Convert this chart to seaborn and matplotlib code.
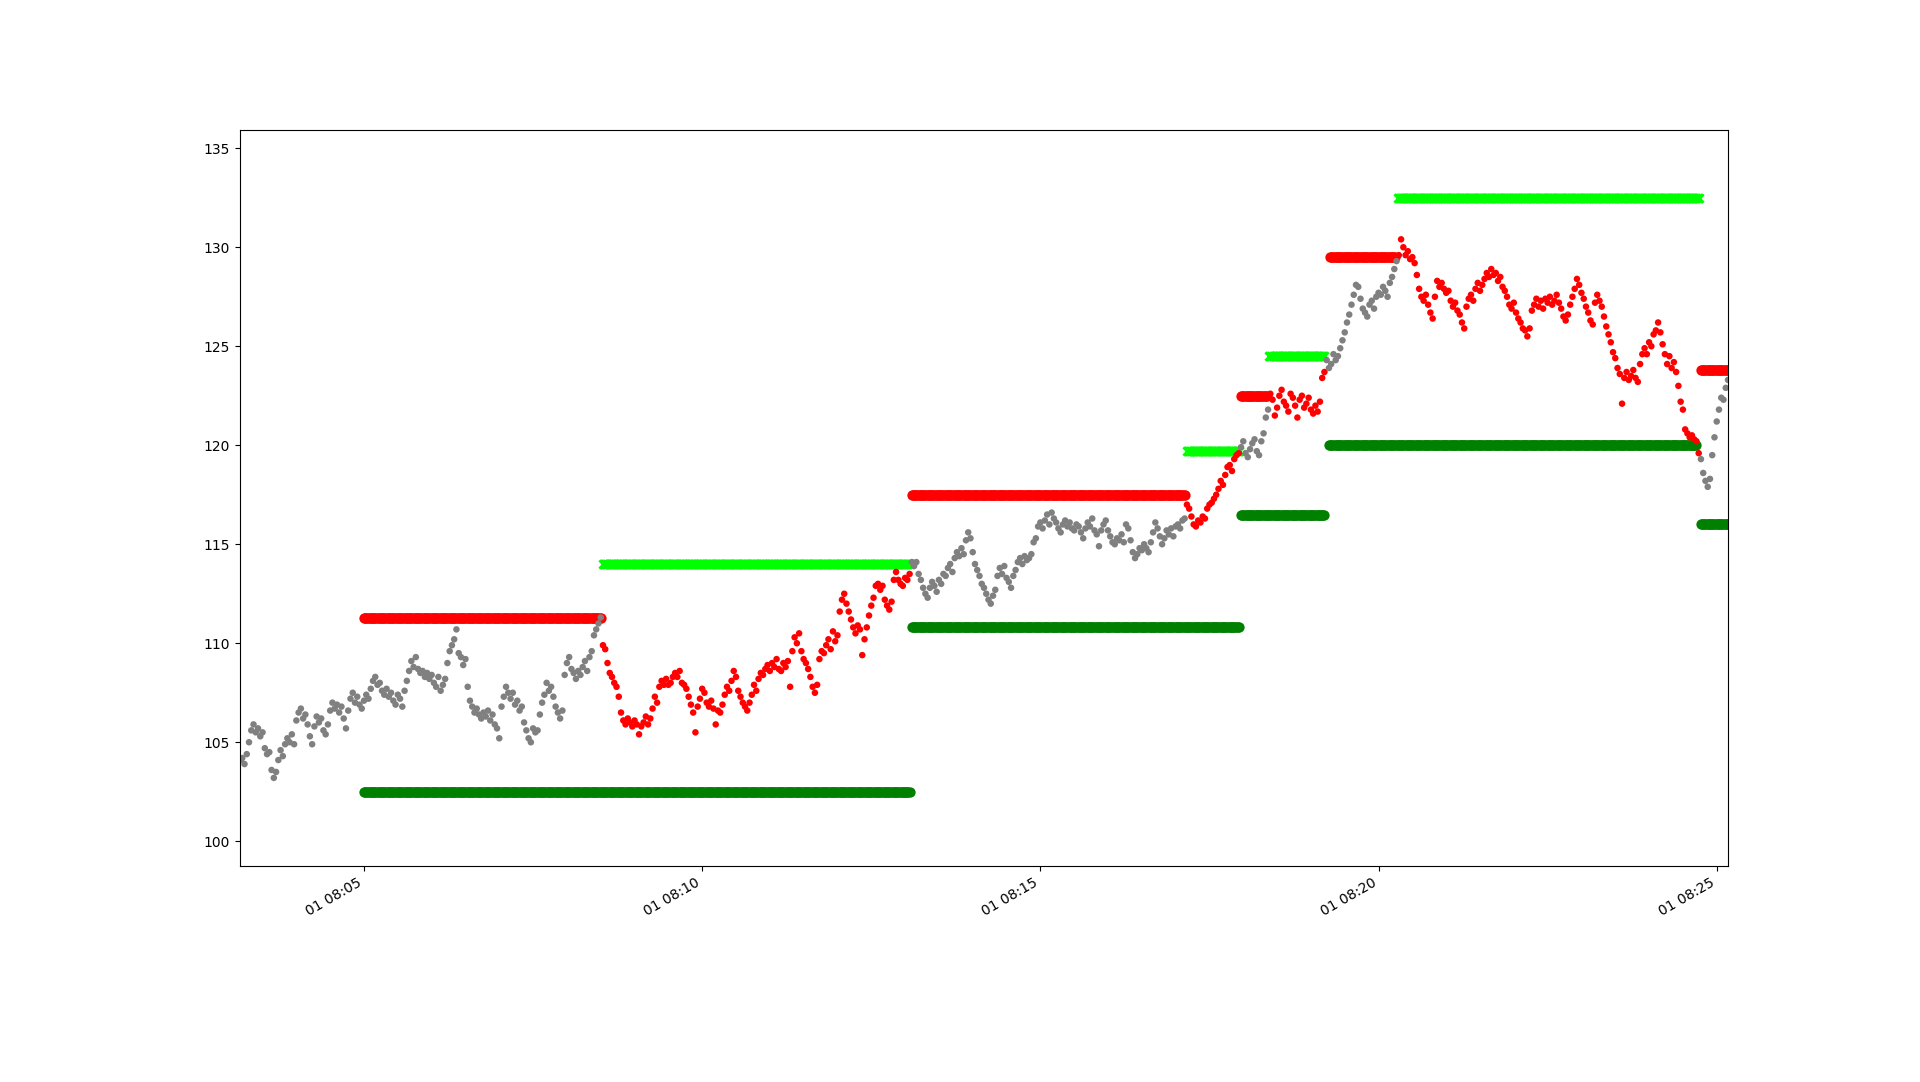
import pandas as pd
import seaborn as sns
import matplotlib.pyplot as plt
import matplotlib.dates as mdates

# price sampled every 2 seconds, one row per minute, starting 08:03:10
day = '2021-01-01 '
start_time = '08:03:10'
price = [
    104.1, 104.2, 103.9, 104.4, 105.0, 105.6, 105.9, 105.5, 105.7, 105.3, 105.5, 104.7, 104.4, 104.5, 103.6,
    103.2, 103.5, 104.1, 104.6, 104.3, 104.9, 105.2, 105.0, 105.4, 104.9, 106.1, 106.5, 106.7, 106.2, 106.4,
    105.9, 105.3, 104.9, 105.8, 106.3, 106.0, 106.2, 105.6, 105.4, 105.9, 106.6, 107.0, 106.7, 106.9, 106.5,
    106.8, 106.2, 105.7, 106.6, 107.2, 107.5, 107.0, 107.3, 106.9, 106.7, 107.1, 107.4, 107.2, 107.7, 108.1,
    108.3, 107.9, 108.0, 107.6, 107.4, 107.7, 107.3, 107.5, 107.1, 106.9, 107.4, 107.2, 106.8, 107.6, 108.1,
    108.6, 109.1, 108.8, 109.3, 108.7, 108.5, 108.6, 108.3, 108.5, 108.2, 108.4, 108.0, 107.8, 108.3, 107.6,
    107.9, 108.2, 109.0, 109.6, 109.9, 110.2, 110.7, 109.5, 109.3, 108.9, 109.2, 107.8, 107.1, 106.8, 106.5,
    106.7, 106.4, 106.2, 106.5, 106.3, 106.6, 106.1, 106.4, 105.9, 105.7, 105.2, 106.8, 107.3, 107.8, 107.5,
    107.2, 107.5, 106.9, 107.1, 106.6, 106.8, 106.0, 105.6, 105.2, 105.0, 105.7, 105.5, 105.6, 106.4, 107.0,
    107.4, 108.0, 107.6, 107.8, 107.3, 106.8, 106.5, 106.2, 106.6, 108.4, 109.0, 109.3, 108.7, 108.5, 108.2,
    108.6, 108.4, 108.8, 109.1, 108.6, 109.3, 109.6, 110.4, 110.7, 111.0, 111.3, 109.9, 109.7, 109.0, 108.5,
    108.3, 108.0, 107.8, 107.3, 106.5, 106.1, 105.9, 106.2, 106.0, 105.8, 106.1, 105.9, 105.4, 105.8, 106.0,
    106.3, 105.9, 106.2, 106.7, 107.3, 107.0, 107.8, 108.1, 107.9, 108.2, 107.9, 108.0, 108.3, 108.5, 108.3,
    108.6, 108.0, 107.9, 107.7, 107.3, 106.9, 106.5, 105.5, 106.8, 107.2, 107.7, 107.5, 107.0, 106.8, 107.1,
    106.7, 105.9, 106.6, 106.5, 106.9, 107.4, 107.8, 107.6, 108.1, 108.6, 108.3, 107.6, 107.3, 107.0, 106.8,
    106.6, 107.0, 107.4, 107.9, 107.6, 108.2, 108.5, 108.4, 108.7, 108.9, 108.6, 109.0, 108.8, 109.2, 108.7,
    108.6, 109.0, 108.8, 109.1, 107.8, 109.6, 110.3, 110.0, 110.5, 109.6, 109.2, 109.0, 108.7, 108.3, 107.8,
    107.5, 107.9, 109.2, 109.6, 109.5, 109.9, 110.2, 109.7, 110.6, 110.1, 110.4, 111.6, 112.2, 112.5, 112.0,
    111.6, 111.2, 110.8, 110.5, 110.9, 110.7, 109.4, 110.2, 110.8, 111.4, 111.9, 112.3, 112.9, 113.0, 112.7,
    112.9, 112.2, 111.9, 111.7, 112.1, 113.2, 113.6, 113.2, 113.0, 112.9, 113.3, 113.2, 113.5, 114.1, 113.9,
    114.1, 113.5, 113.2, 112.8, 112.5, 112.3, 112.8, 113.1, 112.9, 112.6, 113.2, 113.0, 113.5, 113.4, 113.8,
    114.0, 113.6, 114.3, 114.6, 114.4, 114.8, 114.5, 115.2, 115.6, 115.3, 114.6, 114.0, 113.7, 113.4, 113.0,
    112.8, 112.5, 112.2, 112.0, 112.4, 112.7, 113.4, 113.8, 113.5, 113.9, 113.3, 113.1, 112.8, 113.4, 113.7,
    114.1, 114.3, 114.0, 114.4, 114.2, 114.3, 114.5, 115.1, 115.3, 115.9, 116.1, 115.8, 116.2, 116.5, 116.0,
    116.6, 116.3, 116.1, 115.8, 115.6, 116.0, 116.2, 115.9, 116.1, 115.8, 115.7, 116.0, 115.9, 115.6, 115.3,
    115.8, 116.1, 115.9, 116.3, 115.7, 115.5, 114.9, 115.7, 116.0, 116.2, 115.7, 115.4, 115.1, 115.0, 115.3,
    115.2, 115.5, 115.1, 116.0, 115.8, 115.2, 114.6, 114.3, 114.5, 114.8, 114.7, 115.0, 114.8, 114.6, 115.1,
    115.6, 116.1, 115.8, 115.4, 115.0, 115.3, 115.7, 115.5, 115.8, 115.4, 115.9, 116.0, 115.8, 116.2, 116.3,
    117.0, 116.8, 116.4, 116.0, 115.9, 116.2, 116.1, 116.4, 116.3, 116.8, 117.0, 117.1, 117.3, 117.5, 117.8,
    118.2, 118.0, 118.5, 118.9, 119.0, 118.7, 119.3, 119.5, 119.6, 119.9, 120.2, 119.6, 119.4, 119.8, 120.1,
    120.3, 119.7, 119.5, 120.2, 120.6, 121.4, 121.8, 122.6, 122.3, 121.5, 121.9, 122.5, 122.8, 122.2, 122.0,
    121.7, 122.6, 122.4, 122.0, 121.4, 122.3, 122.5, 121.9, 122.1, 122.4, 121.8, 121.6, 122.0, 121.7, 122.2,
    123.4, 123.7, 124.3, 123.9, 124.1, 124.6, 124.3, 124.5, 124.9, 125.3, 125.7, 126.2, 126.6, 127.1, 127.6,
    128.1, 128.0, 127.4, 126.9, 126.7, 126.5, 127.1, 127.3, 126.9, 127.5, 127.7, 127.6, 128.0, 127.8, 127.5,
    128.2, 128.5, 128.9, 129.3, 129.6, 130.4, 130.0, 129.6, 129.8, 129.4, 129.5, 129.2, 128.6, 127.9, 127.5,
    127.3, 127.6, 127.1, 126.7, 126.4, 127.5, 128.3, 128.0, 128.2, 127.9, 127.7, 127.8, 127.3, 127.0, 127.2,
    126.8, 126.6, 126.2, 125.9, 127.0, 127.4, 127.6, 127.3, 127.9, 128.2, 127.8, 128.1, 128.4, 128.7, 128.5,
    128.9, 128.6, 128.7, 128.3, 128.5, 128.0, 127.8, 127.5, 127.1, 126.9, 127.2, 126.7, 126.4, 126.2, 125.9,
    125.8, 125.5, 125.9, 126.8, 127.1, 127.4, 127.0, 127.3, 126.9, 127.4, 127.2, 127.5, 127.1, 127.3, 127.6,
    127.2, 126.9, 126.5, 126.3, 126.6, 127.1, 127.5, 127.9, 128.4, 128.1, 127.7, 127.4, 127.0, 126.7, 126.3,
    126.1, 127.2, 127.6, 127.3, 127.0, 126.5, 126.0, 125.6, 125.2, 124.7, 124.4, 123.9, 123.6, 122.1, 123.4,
    123.7, 123.3, 123.5, 123.8, 123.4, 123.2, 124.1, 124.6, 124.9, 124.6, 125.2, 125.0, 125.6, 125.8, 126.2,
    125.7, 125.1, 124.6, 124.1, 124.5, 123.9, 124.2, 123.7, 123.0, 122.2, 121.8, 120.8, 120.6, 120.4, 120.5,
    120.3, 120.2, 119.6, 119.3, 118.6, 118.2, 117.9, 118.3, 119.5, 120.4, 121.2, 121.8, 122.4, 122.3, 122.9,
    123.3,
]

# stop (red), target (lime) and floor (green) levels with their active periods
stop_level = [111.3, 117.5, 122.5, 129.5, 123.8]
stop_start = ['08:05:00', '08:13:06', '08:17:58', '08:19:17', '08:24:46']
stop_end = ['08:08:30', '08:17:08', '08:18:21', '08:20:15', '08:25:10']

target_level = [114.0, 119.7, 124.5, 132.5]
target_start = ['08:08:32', '08:17:10', '08:18:23', '08:20:17']
target_end = ['08:13:04', '08:17:56', '08:19:12', '08:24:44']

floor_level = [102.5, 110.8, 116.5, 120.0, 116.0]
floor_start = ['08:05:00', '08:13:06', '08:17:58', '08:19:16', '08:24:46']
floor_end = ['08:13:04', '08:17:56', '08:19:12', '08:24:42', '08:25:10']

times = pd.date_range(day + start_time, periods=len(price), freq='2s')
df = pd.DataFrame({'time': times, 'price': price, 'state': 'flat'})
for a, b in zip(target_start, target_end):
    df.loc[(df.time >= pd.Timestamp(day + a)) & (df.time <= pd.Timestamp(day + b)), 'state'] = 'open'


def level_frame(levels, starts, ends):
    # the levels are held every second while active
    parts = []
    for lvl, a, b in zip(levels, starts, ends):
        t = pd.date_range(day + a, day + b, freq='1s')
        parts.append(pd.DataFrame({'time': t, 'level': lvl}))
    return pd.concat(parts)


stops = level_frame(stop_level, stop_start, stop_end)
targets = level_frame(target_level, target_start, target_end)
floors = level_frame(floor_level, floor_start, floor_end)

fig, ax = plt.subplots(figsize=(19.2, 10.82), dpi=100)
sns.scatterplot(data=floors, x='time', y='level', color='green', s=55, linewidth=0, ax=ax)
sns.scatterplot(data=stops, x='time', y='level', color='red', s=55, linewidth=0, ax=ax)
sns.scatterplot(data=targets, x='time', y='level', color='lime', marker='x', s=36, linewidth=2.0, ax=ax)
sns.scatterplot(data=df, x='time', y='price', hue='state', palette={'flat': 'grey', 'open': 'red'},
                s=22, linewidth=0, legend=False, ax=ax)

ax.set_xlim(times[0], times[-1])
ax.set_ylim(98.77, 135.93)
ax.xaxis.set_major_locator(mdates.MinuteLocator(byminute=range(0, 60, 5)))
ax.xaxis.set_major_formatter(mdates.DateFormatter('%d %H:%M'))
ax.set_xlabel('')
ax.set_ylabel('')
fig.autofmt_xdate()
fig.savefig('out.png', dpi=100)
